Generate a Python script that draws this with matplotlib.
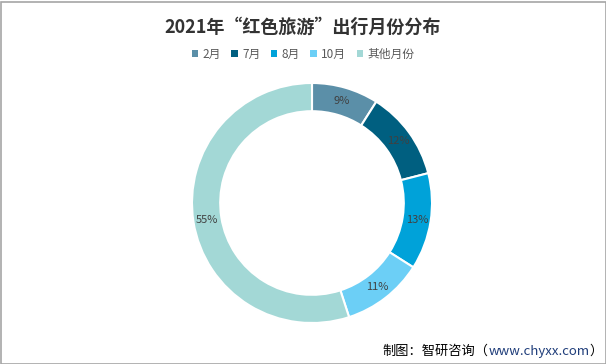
import matplotlib.pyplot as plt
from matplotlib.patches import Rectangle, Patch

plt.rcParams['font.family'] = ['Noto Sans CJK SC', 'DejaVu Sans']

labels = ['2月', '7月', '8月', '10月', '其他月份']
values = [9, 12, 13, 11, 55]
colors = ['#5b8fa8', '#005f80', '#00a2d9', '#6ccff6', '#a3d8d6']

fig = plt.figure(figsize=(6.06, 3.64), dpi=100)
fig.patch.set_facecolor('white')

# donut
ax = fig.add_axes([192 / 606, 41 / 364, 240 / 606, 240 / 364])
wedges, texts, autotexts = ax.pie(
    values, colors=colors, startangle=90, counterclock=False,
    radius=1.0, autopct='%d%%', pctdistance=0.885,
    wedgeprops=dict(width=0.235, edgecolor='white', linewidth=1.5),
    textprops=dict(fontsize=8, color='#404040'))
ax.set_xlim(-1, 1)
ax.set_ylim(-1, 1)
ax.set_aspect('equal')

fig.text(0.5, 1 - 27 / 364, '2021年“红色旅游”出行月份分布', ha='center', va='center',
         fontsize=13, fontweight='bold', color='#333333')

handles = [Patch(facecolor=c, edgecolor='none') for c in colors]
fig.legend(handles, labels, loc='center', bbox_to_anchor=(0.5, 1 - 54 / 364), ncol=5,
           frameon=False, fontsize=8.5, labelcolor='#595959', handlelength=0.55,
           handleheight=0.55, handletextpad=0.35, columnspacing=0.9)

# source line, built right to left
t3 = fig.text(603 / 606, 1 - 351 / 364, '）', ha='right', va='center',
              fontsize=9.5, color='#000000')
t2 = fig.add_artist(plt.Annotation('www.chyxx.com', xy=(0, 0.5), xycoords=t3, va='center', ha='right',
                                   fontsize=9.5, color='#1f3d7a', annotation_clip=False))
fig.add_artist(plt.Annotation('制图：智研咨询（', xy=(0, 0.5), xycoords=t2, va='center', ha='right',
                              fontsize=9.5, color='#000000', annotation_clip=False))

fig.patches.append(Rectangle((0.5 / 606, 0.5 / 364), 605 / 606, 362 / 364, transform=fig.transFigure,
                             fill=False, edgecolor='#a6a6a6', linewidth=1.2))

fig.savefig('out.png', dpi=100)
